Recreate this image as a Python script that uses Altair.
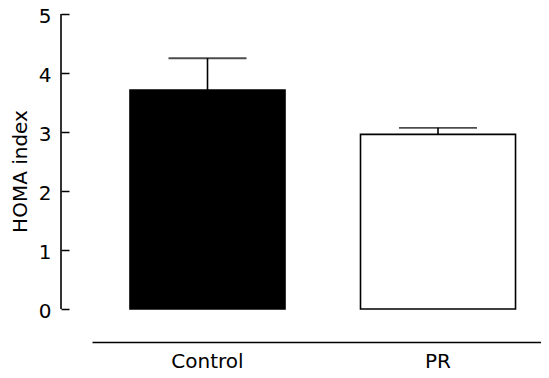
import altair as alt
import pandas as pd

groups = ["Control", "PR"]
means = [3.71, 2.96]
errors = [0.54, 0.11]
bar_fills = ["#000000", "#ffffff"]
y_ticks = [0, 1, 2, 3, 4, 5]

df = pd.DataFrame({
    "group": groups,
    "mean": means,
    "upper": [m + e for m, e in zip(means, errors)],
})

FONT = "DejaVu Sans"
FS = 20
W, H = 449, 295

x_scale = alt.Scale(domain=groups, paddingInner=0.3275, paddingOuter=0.1377, align=0.5986)
x_axis = alt.Axis(
    title=None, orient="bottom", offset=33, domain=True, domainColor="black",
    domainWidth=1.5, ticks=False, labelAngle=0, labelFont=FONT,
    labelFontSize=FS, labelColor="black", labelPadding=9, grid=False,
)
y_scale = alt.Scale(domain=[0, 5], nice=False, zero=True)
y_axis = alt.Axis(
    title="HOMA index", values=y_ticks, format="d", orient="left", offset=23,
    domain=False, tickSize=8, tickColor="black", tickWidth=1.5, labelPadding=10,
    labelFont=FONT, labelFontSize=FS, labelColor="black", labelOffset=2,
    grid=False, titleFont=FONT, titleFontSize=FS, titleFontWeight="normal",
    titleColor="black", titlePadding=8, titleY=157,
)

base = alt.Chart(df)

bars = base.mark_bar(stroke="black", strokeWidth=1.6).encode(
    x=alt.X("group:N", scale=x_scale, axis=x_axis),
    y=alt.Y("mean:Q", scale=y_scale, axis=y_axis),
    color=alt.Color("group:N", scale=alt.Scale(domain=groups, range=bar_fills), legend=None),
)

err_line = base.mark_rule(color="black", strokeWidth=1.6).encode(
    x=alt.X("group:N", axis=x_axis),
    y=alt.Y("mean:Q", axis=y_axis),
    y2="upper:Q",
)

err_cap = base.mark_tick(color="black", thickness=1.8, size=78).encode(
    x=alt.X("group:N", axis=x_axis),
    y=alt.Y("upper:Q", axis=y_axis),
)

y_line = alt.Chart(pd.DataFrame({"lo": [0], "hi": [5]})).mark_rule(
    color="black", strokeWidth=1.6
).encode(
    x=alt.value(-31),
    y=alt.Y("lo:Q", axis=y_axis),
    y2="hi:Q",
)

chart = alt.layer(bars, err_line, err_cap, y_line).properties(
    width=W, height=H,
    autosize=alt.AutoSizeParams(type="none"),
    padding={"left": 84, "top": 6, "right": 0, "bottom": 64},
).configure(background="white").configure_view(strokeWidth=0, stroke="transparent")

chart.save("out.html", embed_options={"renderer": "svg", "actions": False})
